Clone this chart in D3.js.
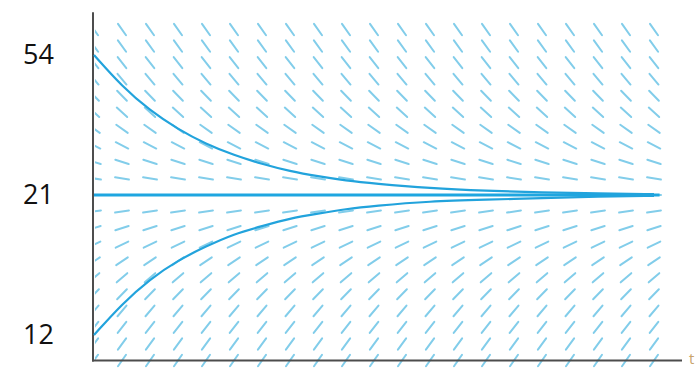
<!DOCTYPE html>
<html>
<head>
<meta charset="utf-8">
<script src="https://cdn.jsdelivr.net/npm/d3@7"></script>
<style>
  html, body { margin: 0; padding: 0; background: #fff; }
  svg { display: block; }
</style>
</head>
<body>
<div id="chart"></div>
<script>
// tick labels on the (schematic) temperature axis
const yTicks = [54, 21, 12];

// slope field: grid columns (time) and rows (temperature)
const fieldTimes = [0, 1, 2, 3, 4, 5, 6, 7, 8, 9, 10, 11, 12, 13, 14, 15, 16, 17, 18, 19, 20];
const fieldRows = [60.0, 56.1, 52.2, 48.3, 44.4, 40.5, 36.6, 32.7, 28.8, 24.9, 21,
                   19.94, 18.87, 17.81, 16.74, 15.68, 14.62, 13.55, 12.49, 11.42, 10.36];
// angle of each row's little segment, in degrees (positive = falling)
const rowAngles = [55, 54, 52, 50, 46, 42, 35, 27, 18, 9, 0,
                   -9, -18, -26, -34, -41, -46, -50, -52, -54, -55];

// solution curves
const curveTimes = [0, 1, 2, 3, 4, 5, 6, 7, 8, 9, 10, 12, 14, 16, 18, 20];
const coolingValues = [54, 46.6, 40.9, 36.5, 33.0, 30.4, 28.3, 26.6, 25.4, 24.4, 23.7, 22.6, 22.0, 21.6, 21.4, 21.2];
const warmingValues = [12, 14.0, 15.6, 16.8, 17.7, 18.5, 19.0, 19.5, 19.8, 20.1, 20.3, 20.6, 20.7, 20.8, 20.9, 20.95];
const equilibrium = 21;

const width = 700;
const height = 368;

const x = d3.scaleLinear().domain([0, 20]).range([94, 654]);
// piecewise scale: the picture is a sketch, not to scale
const y = d3.scaleLinear().domain([12, 21, 54]).range([335, 195, 55]);

const svg = d3.select('#chart')
    .append('svg')
    .attr('width', width)
    .attr('height', height);

svg.append('defs')
    .append('clipPath')
    .attr('id', 'field-clip')
    .append('rect')
    .attr('x', x(0) + 1)
    .attr('y', 0)
    .attr('width', width)
    .attr('height', height);

// slope field segments
const cells = [];
fieldRows.forEach((v, i) => {
    fieldTimes.forEach(t => cells.push({ t, v, a: rowAngles[i] }));
});
const half = 7;

svg.append('g')
    .attr('clip-path', 'url(#field-clip)')
    .selectAll('line')
    .data(cells)
    .enter()
    .append('line')
    .attr('x1', d => x(d.t) - half * Math.cos(d.a * Math.PI / 180))
    .attr('y1', d => y(d.v) - half * Math.sin(d.a * Math.PI / 180))
    .attr('x2', d => x(d.t) + half * Math.cos(d.a * Math.PI / 180))
    .attr('y2', d => y(d.v) + half * Math.sin(d.a * Math.PI / 180))
    .attr('stroke', '#82cdea')
    .attr('stroke-width', 2)
    .attr('stroke-linecap', 'round');

// axes (plain lines, as in the sketch)
svg.append('line')
    .attr('x1', x(0) - 1).attr('x2', x(0) - 1)
    .attr('y1', y(64.1)).attr('y2', y(10.36) + 1)
    .attr('stroke', '#4d4d4d').attr('stroke-width', 2);
svg.append('line')
    .attr('x1', x(0) - 2).attr('x2', x(21))
    .attr('y1', y(10.36)).attr('y2', y(10.36))
    .attr('stroke', '#4d4d4d').attr('stroke-width', 2);

// y tick labels
svg.append('g')
    .attr('transform', `translate(${x(0)},0)`)
    .call(d3.axisLeft(y).tickValues(yTicks).tickSize(0).tickPadding(40))
    .call(g => g.select('.domain').remove())
    .call(g => g.selectAll('text')
        .attr('font-family', '"Open Sans", sans-serif')
        .attr('font-size', 27)
        .attr('fill', '#111'));

// equilibrium line
svg.append('line')
    .attr('x1', x(0)).attr('x2', x(20.2))
    .attr('y1', y(equilibrium)).attr('y2', y(equilibrium))
    .attr('stroke', '#1ea6e0')
    .attr('stroke-width', 3);

// solution curves
const line = d3.line()
    .x(d => x(d[0]))
    .y(d => y(d[1]))
    .curve(d3.curveBasis);

[coolingValues, warmingValues].forEach(vals => {
    svg.append('path')
        .datum(curveTimes.map((t, i) => [t, vals[i]]))
        .attr('d', line)
        .attr('fill', 'none')
        .attr('stroke', '#22a3dc')
        .attr('stroke-width', 2.2);
});

// axis name at the far right
svg.append('text')
    .attr('x', 689)
    .attr('y', 364)
    .attr('font-family', '"Open Sans", sans-serif')
    .attr('font-size', 15)
    .attr('fill', '#c9a46c')
    .text('t');
</script>
</body>
</html>
